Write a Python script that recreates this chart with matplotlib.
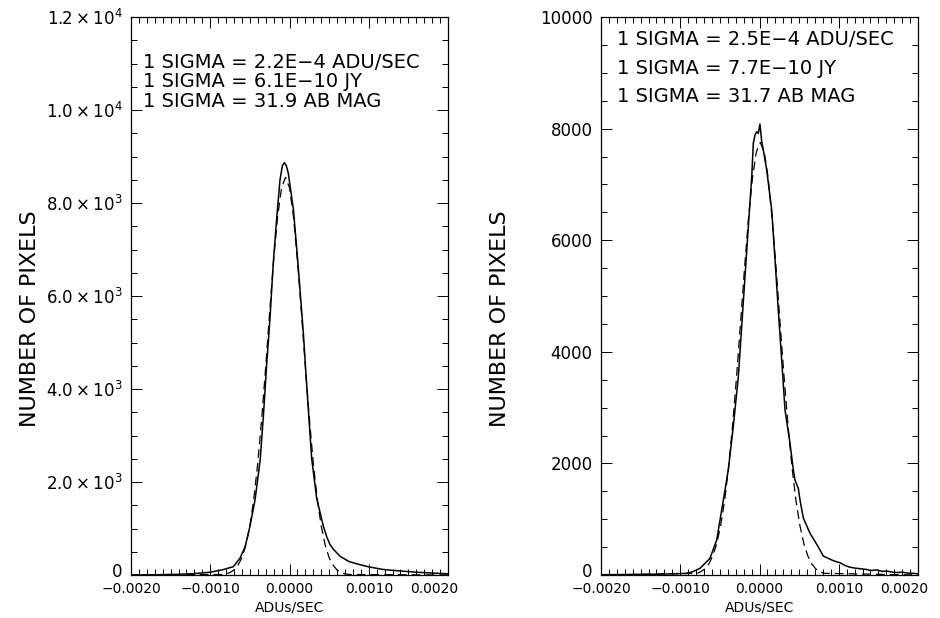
import matplotlib
matplotlib.use("Agg")
import matplotlib.pyplot as plt
import matplotlib.transforms as mtransforms
from matplotlib.ticker import MultipleLocator

# left panel: measured histogram (solid) and gaussian fit (dashed)
x_hist_l = [-0.0020, -0.0017, -0.0014, -0.0012, -0.0010, -0.00085, -0.00071, -0.000625,
            -0.00056, -0.0005, -0.000435, -0.00037, -0.00033, -0.00029, -0.000245, -0.000205,
            -0.00016, -0.00012, -0.00009, -0.000065, -0.00004, -0.000015, 0.00005, 0.00011,
            0.000175, 0.000215, 0.00028, 0.000343, 0.000385, 0.000427, 0.00047, 0.00051,
            0.00055, 0.00064, 0.00075, 0.00085, 0.0010, 0.00118, 0.0013, 0.0016, 0.0020]
y_hist_l = [0, 5, 15, 30, 60, 110, 178, 359,
            609, 1039, 1613, 2473, 3404, 4480, 5555, 6703,
            7705, 8495, 8800, 8867, 8800, 8639, 7849, 6630,
            5198, 4123, 2500, 1650, 1350, 1050, 820, 660,
            560, 400, 290, 240, 175, 120, 100, 60, 25]

x_fit_l = [-0.0020, -0.00085, -0.0008, -0.00075, -0.0007, -0.00065, -0.0006, -0.00055,
           -0.0005, -0.00045, -0.0004, -0.00035, -0.0003, -0.00025, -0.0002, -0.00015,
           -0.0001, -0.00005, 0.0, 0.00005, 0.0001, 0.00015, 0.0002, 0.00025,
           0.0003, 0.00035, 0.0004, 0.00045, 0.0005, 0.00055, 0.0006, 0.00065,
           0.0007, 0.00075, 0.0020]
y_fit_l = [0, 11, 26, 54, 109, 210, 375, 646,
           1055, 1640, 2410, 3380, 4480, 5660, 6780, 7710,
           8330, 8550, 8330, 7710, 6780, 5660, 4480, 3380,
           2410, 1640, 1055, 646, 375, 210, 109, 54,
           26, 11, 0]

# right panel
x_hist_r = [-0.0020, -0.0017, -0.0014, -0.0012, -0.0010, -0.00092, -0.00085, -0.00075,
            -0.000625, -0.00054, -0.000477, -0.000394, -0.000331, -0.000267, -0.000225, -0.000183,
            -0.000141, -0.000098, -0.000078, -0.000057, -0.000035, -0.000015, 0.000006, 0.000028,
            0.000048, 0.000091, 0.000154, 0.000196, 0.000237, 0.00028, 0.000322, 0.000385,
            0.000427, 0.000448, 0.00049, 0.000511, 0.000553, 0.000637, 0.00074, 0.000805,
            0.00091, 0.000965, 0.001016, 0.00108, 0.00114, 0.0012, 0.00128, 0.00135,
            0.0014, 0.00148, 0.00155, 0.0016, 0.00169, 0.00175, 0.0018, 0.00187,
            0.00194, 0.0020]
y_hist_r = [5, 8, 12, 18, 25, 30, 55, 120,
            299, 627, 1165, 1882, 2658, 3554, 4450, 5346,
            6242, 7138, 7737, 7885, 7944, 7915, 8082, 7765,
            7616, 7258, 6541, 5645, 4749, 3853, 2957, 2360,
            1882, 1703, 1550, 1344, 1020, 750, 507, 340,
            270, 240, 220, 170, 140, 125, 110, 100,
            80, 90, 65, 70, 48, 45, 50, 35,
            30, 20]

x_fit_r = [-0.0020, -0.00079, -0.00074, -0.00069, -0.00064, -0.00059, -0.00054, -0.00049,
           -0.00044, -0.00039, -0.00034, -0.00029, -0.00024, -0.00019, -0.00014, -0.00009,
           -0.00004, 0.00001, 0.00006, 0.00011, 0.00016, 0.00021, 0.00026, 0.00031,
           0.00036, 0.00041, 0.00046, 0.00051, 0.00056, 0.00061, 0.00066, 0.00071,
           0.00076, 0.00081, 0.0020]
y_fit_r = [0, 30, 59, 110, 198, 340, 561, 885,
           1336, 1933, 2676, 3548, 4505, 5477, 6375, 7106,
           7583, 7750, 7583, 7106, 6375, 5477, 4505, 3548,
           2676, 1933, 1336, 885, 561, 340, 198, 110,
           59, 30, 0]

notes_l = ["1 SIGMA = 2.2E\u22124 ADU/SEC", "1 SIGMA = 6.1E\u221210 JY", "1 SIGMA = 31.9 AB MAG"]
notes_r = ["1 SIGMA = 2.5E\u22124 ADU/SEC", "1 SIGMA = 7.7E\u221210 JY", "1 SIGMA = 31.7 AB MAG"]

xticks = [-0.002, -0.001, 0.0, 0.001, 0.002]
xtick_labels = ["\u22120.0020", "\u22120.0010", "0.0000", "0.0010", "0.0020"]
yticks_l = [0, 2000, 4000, 6000, 8000, 10000, 12000]
ytick_labels_l = ["0", r"$2.0\times10^3$", r"$4.0\times10^3$", r"$6.0\times10^3$",
                  r"$8.0\times10^3$", r"$1.0\times10^4$", r"$1.2\times10^4$"]
yticks_r = [0, 2000, 4000, 6000, 8000, 10000]
ytick_labels_r = ["0", "2000", "4000", "6000", "8000", "10000"]

plt.rcParams['mathtext.default'] = 'regular'

fig = plt.figure(figsize=(9.4, 6.18), dpi=100)
ax1 = fig.add_axes([131/940, 1-575/618, 317/940, 558/618])
ax2 = fig.add_axes([601/940, 1-575/618, 317/940, 558/618])

panels = [(ax1, x_hist_l, y_hist_l, x_fit_l, y_fit_l, 12000, yticks_l, ytick_labels_l, notes_l,
           0.038, [0.919, 0.884, 0.848]),
          (ax2, x_hist_r, y_hist_r, x_fit_r, y_fit_r, 10000, yticks_r, ytick_labels_r, notes_r,
           0.05, [0.959, 0.908, 0.857])]

for ax, xh, yh, xf, yf, ymax, yt, ytl, notes, tx, tys in panels:
    ax.plot(xh, yh, color='black', lw=1.1)
    fl, = ax.plot(xf, yf, color='black', lw=0.9)
    fl.set_dashes([7, 4])
    ax.set_xlim(-0.002, 0.002)
    ax.set_ylim(0, ymax)
    ax.set_xticks(xticks)
    ax.set_xticklabels(xtick_labels, fontsize=10)
    ax.set_yticks(yt)
    ax.set_yticklabels(ytl, fontsize=12)
    ax.xaxis.set_minor_locator(MultipleLocator(0.0001))
    ax.yaxis.set_minor_locator(MultipleLocator(500))
    ax.tick_params(which='both', direction='in', top=True, right=True, width=0.7)
    ax.tick_params(which='major', length=8)
    ax.tick_params(which='minor', length=4)
    ax.tick_params(axis='x', pad=5)
    ax.tick_params(axis='y', pad=6)
    # zero label lifted a little above the axis, last x label pulled inward
    zero = ax.get_yticklabels()[0]
    zero.set_transform(zero.get_transform() + mtransforms.ScaledTranslation(0, 5/100, fig.dpi_scale_trans))
    last = ax.get_xticklabels()[-1]
    last.set_transform(last.get_transform() + mtransforms.ScaledTranslation(-14/100, 0, fig.dpi_scale_trans))
    for s in ax.spines.values():
        s.set_linewidth(0.9)
    ax.set_xlabel("ADUs/SEC", fontsize=10)
    ax.xaxis.set_label_coords(0.5, -0.045)
    ax.set_ylabel("NUMBER OF PIXELS", fontsize=16)
    ax.yaxis.set_label_coords(-0.287, 0.46)
    for t, ty in zip(notes, tys):
        ax.text(tx, ty, t, transform=ax.transAxes, fontsize=14, va='center', ha='left')

fig.savefig("out.png", dpi=100)
